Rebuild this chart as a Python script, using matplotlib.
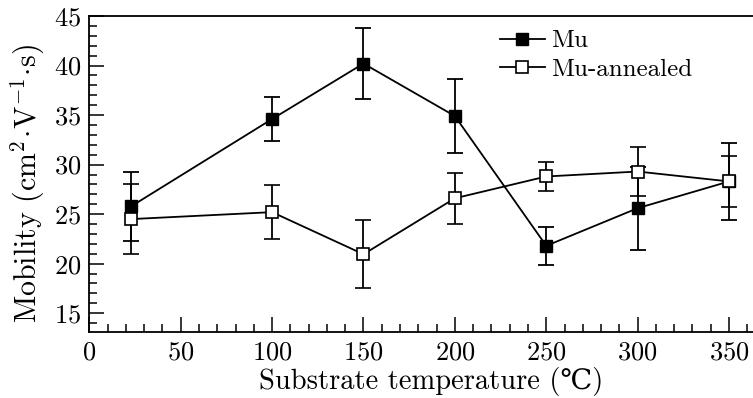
import matplotlib
matplotlib.use("Agg")
import matplotlib.pyplot as plt
from matplotlib.lines import Line2D
from matplotlib.ticker import MultipleLocator

plt.rcParams['font.family'] = ['cmr10', 'DejaVu Serif']
plt.rcParams['mathtext.fontset'] = 'cm'
plt.rcParams['axes.formatter.use_mathtext'] = True

# substrate temperature (C)
temp = [23, 100, 150, 200, 250, 300, 350]

# mobility, as deposited
mu = [25.8, 34.6, 40.2, 34.9, 21.8, 25.6, 28.3]
mu_err = [3.5, 2.2, 3.6, 3.7, 1.9, 4.2, 3.9]

# mobility, annealed
mu_ann = [24.5, 25.2, 20.95, 26.6, 28.8, 29.3, 28.3]
mu_ann_err = [3.5, 2.75, 3.45, 2.6, 1.5, 2.5, 2.6]

fig = plt.figure(figsize=(7.53, 3.98), dpi=100)
ax = fig.add_axes([0.1186, 0.1658, 0.886, 0.794])

ax.errorbar(temp, mu, yerr=mu_err, color='black', lw=1.3, marker='s', ms=9,
            mfc='black', mec='black', capsize=6, elinewidth=1.3, capthick=1.3,
            zorder=3)
ax.errorbar(temp, mu_ann, yerr=mu_ann_err, color='black', lw=1.3, marker='s', ms=9,
            mfc='white', mec='black', mew=1.2, capsize=6, elinewidth=1.3, capthick=1.3,
            zorder=4)

ax.set_xlim(0, 365)
ax.set_ylim(13.1, 45)
ax.xaxis.set_major_locator(MultipleLocator(50))
ax.xaxis.set_minor_locator(MultipleLocator(10))
ax.yaxis.set_major_locator(MultipleLocator(5))
ax.yaxis.set_minor_locator(MultipleLocator(1))
ax.tick_params(which='both', direction='in', top=False, right=False, labelsize=19, width=1.1)
ax.tick_params(which='major', length=11, pad=6)
ax.tick_params(which='minor', length=6)
ax.spines['right'].set_visible(False)
for s in ['left', 'bottom', 'top']:
    ax.spines[s].set_linewidth(1.3)

ax.set_xlabel('Substrate temperature (\u2103)', fontsize=20.5)
ax.set_ylabel(r'Mobility (cm$^{2}\!\cdot\!$V$^{-1}\!\cdot\!$s)', fontsize=21.5)
ax.xaxis.set_label_coords(0.513, -0.11)
ax.yaxis.set_label_coords(-0.064, 0.47)

handles = [
    Line2D([], [], color='black', lw=1.3, marker='s', ms=9, mfc='black', mec='black'),
    Line2D([], [], color='black', lw=1.3, marker='s', ms=9, mfc='white', mec='black', mew=1.2),
]
ax.legend(handles, ['Mu', 'Mu-annealed'], loc='upper left',
          bbox_to_anchor=(0.664, 0.925), bbox_transform=fig.transFigure,
          frameon=False, fontsize=18, handlelength=1.8, handletextpad=0.25,
          borderpad=0, borderaxespad=0, labelspacing=0.25)

fig.savefig('out.png', dpi=100)
